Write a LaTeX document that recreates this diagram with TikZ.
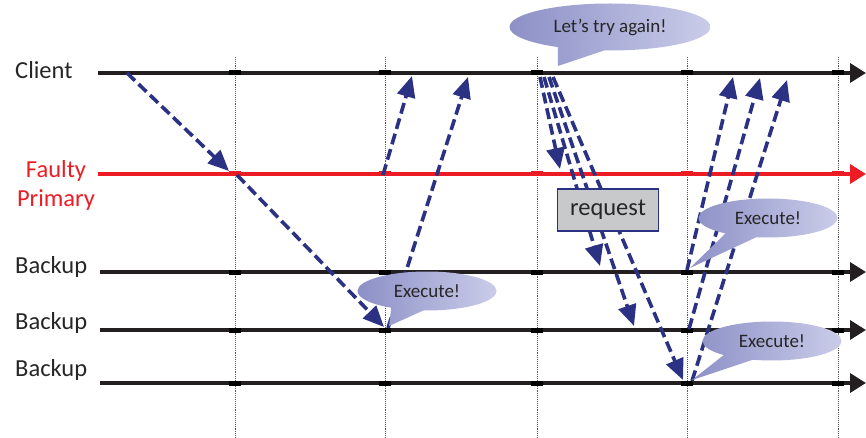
\documentclass[tikz,border=0pt]{standalone}
\usepackage{fontspec}
\setmainfont{Carlito}
\usetikzlibrary{arrows.meta, positioning, shapes.callouts}

\definecolor{msgblue}{HTML}{2B3183}
\definecolor{faultred}{HTML}{ED1C24}
\definecolor{lineblack}{HTML}{231F20}
\definecolor{bubbleA}{HTML}{8C90C6}
\definecolor{bubbleB}{HTML}{CACCE9}
\definecolor{boxgray}{HTML}{C8C9CB}
\definecolor{textgray}{HTML}{262626}

\begin{document}
\begin{tikzpicture}[
        x=1pt, y=-1pt,
        timeline/.style={line width=3.5pt, -{Triangle[length=16pt,width=19pt]}},
        tickmark/.style={line width=5pt},
        gridline/.style={densely dotted, line width=0.9pt, gray!70!black},
        msg/.style={msgblue, line width=3.6pt, dash pattern=on 11pt off 5pt,
            -{Triangle[length=21pt,width=18pt]}},
        lanename/.style={inner sep=0pt, text=textgray, font=\fontsize{24.5}{29}\selectfont},
        bubble/.style={ellipse callout, left color=bubbleA, right color=bubbleB,
            inner sep=0pt, callout pointer arc=28, minimum width=139pt, minimum height=39pt,
            text=textgray, font=\fontsize{19}{23}\selectfont},
        reqbox/.style={draw=msgblue, line width=1.3pt, fill=boxgray, text=textgray,
            minimum width=101pt, minimum height=42pt, inner sep=0pt,
            font=\fontsize{24.5}{29}\selectfont}
    ]
    \useasboundingbox (0,0) rectangle (866,438);
    % Lane names
    \node[lanename, anchor=west] (clientname) at (15,70) {Client};
    \node[lanename, align=center, text=faultred] (primaryname) at (56,185) {Faulty\\Primary};
    \node[lanename, anchor=west] (backupname1) at (15,267) {Backup};
    \node[lanename, anchor=west] (backupname2) at (15,323) {Backup};
    \node[lanename, anchor=west] (backupname3) at (15,370) {Backup};
    % Time lines
    \coordinate (cl0) at (98,73);  \coordinate (cl1) at (866,73);
    \coordinate (pr0) at (98,174); \coordinate (pr1) at (866,174);
    \coordinate (ba0) at (100,272); \coordinate (ba1) at (866,272);
    \coordinate (bb0) at (100,330); \coordinate (bb1) at (866,330);
    \coordinate (bc0) at (100,383); \coordinate (bc1) at (866,383);
    % Rounds
    \foreach \x in {235,385,537,687,838} {
        \draw[gridline] (\x,57) -- (\x,438);
    }
    \draw[timeline, lineblack] (cl0) -- (cl1);
    \draw[timeline, faultred] (pr0) -- (pr1);
    \draw[timeline, lineblack] (ba0) -- (ba1);
    \draw[timeline, lineblack] (bb0) -- (bb1);
    \draw[timeline, lineblack] (bc0) -- (bc1);
    \foreach \x in {235,385,537,687,838} {
        \foreach \y in {73,272,330,383} {
            \draw[tickmark, black] (\x-6,\y) -- (\x+6,\y);
        }
        \draw[tickmark, faultred] (\x-6,174) -- (\x+6,174);
    }
    % Message end points
    \coordinate (m1s) at (127,73);  \coordinate (m1e) at (229,171);
    \coordinate (m2s) at (237,175); \coordinate (m2e) at (384,327);
    \coordinate (m3s) at (383,175); \coordinate (m3e) at (412,76);
    \coordinate (m4s) at (388,328); \coordinate (m4e) at (468,77);
    \coordinate (r1s) at (540,77);  \coordinate (r1e) at (560,169);
    \coordinate (r2s) at (544,77);  \coordinate (r2e) at (600,266);
    \coordinate (r3s) at (549,77);  \coordinate (r3e) at (634,326);
    \coordinate (r4s) at (553,77);  \coordinate (r4e) at (683,380);
    \coordinate (e1s) at (687,270); \coordinate (e1e) at (733,77);
    \coordinate (e2s) at (689,329); \coordinate (e2e) at (760,78);
    \coordinate (e3s) at (692,381); \coordinate (e3e) at (787,80);
    % Messages
    \draw[msg] (m1s) -- (m1e);
    \draw[msg] (m2s) -- (m2e);
    \draw[msg] (m3s) -- (m3e);
    \draw[msg] (m4s) -- (m4e);
    \draw[msg] (r1s) -- (r1e);
    \draw[msg] (r2s) -- (r2e);
    \draw[msg] (r3s) -- (r3e);
    \draw[msg] (r4s) -- (r4e);
    \draw[msg] (e1s) -- (e1e);
    \draw[msg] (e2s) -- (e2e);
    \draw[msg] (e3s) -- (e3e);
    % Request box
    \node[reqbox] (req) at (608,210) {request};
    % Callouts
    \coordinate (tryTip) at (558,66);
    \coordinate (exeTip1) at (389,326);
    \coordinate (exeTip2) at (690,268);
    \coordinate (exeTip3) at (692,380);
    \node[bubble, minimum width=201pt, minimum height=47pt,
        callout absolute pointer={(tryTip)}] (tryagain) at (610,27) {Let’s try again!};
    \node[bubble, callout absolute pointer={(exeTip1)}] (execute1) at (427,291) {Execute!};
    \node[bubble, callout absolute pointer={(exeTip2)}] (execute2) at (768,218) {Execute!};
    \node[bubble, callout absolute pointer={(exeTip3)}] (execute3) at (772,341) {Execute!};
\end{tikzpicture}
\end{document}
